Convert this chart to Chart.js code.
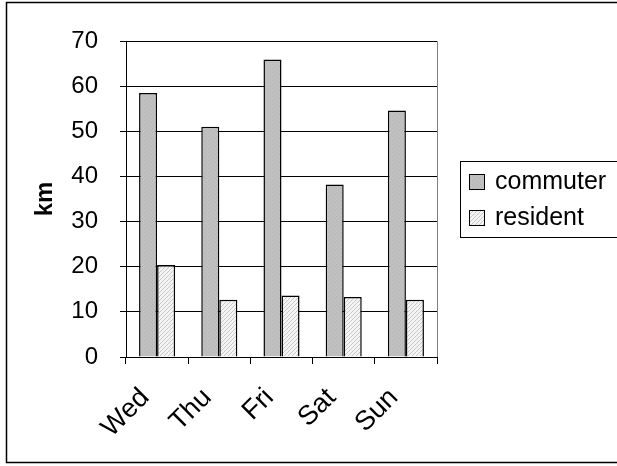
<!DOCTYPE html>
<html>
<head>
<meta charset="utf-8">
<script src="https://cdn.jsdelivr.net/npm/chart.js@4.4.0/dist/chart.umd.min.js"></script>
<style>
  html, body { margin: 0; padding: 0; background: #fff; overflow: hidden; }
  #wrap { width: 617px; height: 466px; }
  canvas { display: block; }
</style>
</head>
<body>
<div id="wrap"><canvas id="chart" width="617" height="466"></canvas></div>
<script>
const days = ['Wed', 'Thu', 'Fri', 'Sat', 'Sun'];
const commuter = [58.5, 51.0, 65.9, 38.2, 54.6];
const resident = [20.4, 12.7, 13.6, 13.3, 12.7];
const yTicks = [0, 10, 20, 30, 40, 50, 60, 70];

function makePattern(kind) {
  const c = document.createElement('canvas');
  c.width = 4;
  c.height = 4;
  const g = c.getContext('2d');
  if (kind === 'dots') {
    g.fillStyle = '#c0c0c0';
    g.fillRect(0, 0, 4, 4);
    g.fillStyle = '#b4b4b4';
    g.fillRect(0, 0, 1, 1);
    g.fillRect(2, 2, 1, 1);
  } else {
    g.fillStyle = '#f4f4f4';
    g.fillRect(0, 0, 4, 4);
    g.fillStyle = '#c8c8c8';
    for (let i = 0; i < 4; i++) g.fillRect(3 - i, i, 1, 1);
  }
  return g.createPattern(c, 'repeat');
}

const family = 'Arial, "Liberation Sans", sans-serif';
const font = { family: family, size: 24 };

// frame around the picture (its right side runs off the canvas) and plot edges
const frames = {
  id: 'frames',
  beforeDraw(chart) {
    const ctx = chart.ctx;
    ctx.save();
    ctx.fillStyle = '#fff';
    ctx.fillRect(0, 0, chart.width, chart.height);
    ctx.strokeStyle = '#000';
    ctx.lineWidth = 1.5;
    ctx.strokeRect(6.5, 2.5, 640, 460);
    const a = chart.chartArea;
    ctx.lineWidth = 1;
    ctx.strokeStyle = '#808080';
    ctx.beginPath();
    ctx.moveTo(a.left, Math.round(a.top) + 0.5);
    ctx.lineTo(Math.round(a.right) + 0.5, Math.round(a.top) + 0.5);
    ctx.lineTo(Math.round(a.right) + 0.5, a.bottom);
    ctx.stroke();
    ctx.restore();
  }
};

// boxed legend to the right of the plot, built from the datasets
const boxLegend = {
  id: 'boxLegend',
  afterDraw(chart) {
    const ctx = chart.ctx;
    const a = chart.chartArea;
    const x0 = a.right + 23;
    const midY = (a.top + a.bottom) / 2;
    const rowH = 36;
    const sets = chart.data.datasets;
    const top = midY - (sets.length * rowH) / 2 - 2;
    ctx.save();
    ctx.strokeStyle = '#000';
    ctx.lineWidth = 1;
    ctx.strokeRect(Math.round(x0) + 0.5, Math.round(top) + 0.5, 300, sets.length * rowH + 4);
    ctx.font = `25px ${family}`;
    ctx.textBaseline = 'middle';
    sets.forEach((ds, i) => {
      const cy = top + 2 + rowH * i + rowH / 2;
      ctx.fillStyle = ds.backgroundColor;
      ctx.fillRect(x0 + 9, cy - 7, 16, 15);
      ctx.strokeStyle = '#000';
      ctx.strokeRect(x0 + 9.5, Math.round(cy - 7) + 0.5, 15, 15);
      ctx.fillStyle = '#000';
      ctx.fillText(ds.label, x0 + 35, cy + 1);
    });
    ctx.restore();
  }
};

new Chart(document.getElementById('chart'), {
  type: 'bar',
  data: {
    labels: days,
    datasets: [
      {
        label: 'commuter',
        data: commuter,
        backgroundColor: makePattern('dots'),
        borderColor: '#000',
        borderWidth: 1.5
      },
      {
        label: 'resident',
        data: resident,
        backgroundColor: makePattern('hatch'),
        borderColor: '#000',
        borderWidth: 1.5
      }
    ]
  },
  options: {
    responsive: false,
    animation: false,
    devicePixelRatio: 1,
    layout: { padding: { left: 25, right: 180, top: 41, bottom: 0 } },
    datasets: { bar: { categoryPercentage: 0.58, barPercentage: 1 } },
    plugins: {
      legend: { display: false },
      tooltip: { enabled: false }
    },
    scales: {
      x: {
        afterFit: scale => { scale.height = 109; },
        grid: {
          offset: true,
          drawOnChartArea: false,
          color: '#000',
          tickLength: 7
        },
        border: { color: '#000', width: 1 },
        ticks: {
          font: { family: family, size: 27 },
          color: '#000',
          minRotation: 45,
          maxRotation: 45,
          padding: 18,
          labelOffset: -12
        }
      },
      y: {
        min: 0,
        max: 70,
        afterFit: scale => { scale.width = 101; },
        afterBuildTicks: scale => { scale.ticks = yTicks.map(v => ({ value: v })); },
        grid: { color: '#000', tickLength: 6 },
        border: { color: '#000', width: 1 },
        ticks: { font: font, color: '#000', padding: 22 },
        title: {
          display: true,
          text: 'km',
          font: { family: family, size: 24, weight: 'bold' },
          color: '#000',
          padding: { top: 6, bottom: 0 }
        }
      }
    }
  },
  plugins: [frames, boxLegend]
});
</script>
</body>
</html>
